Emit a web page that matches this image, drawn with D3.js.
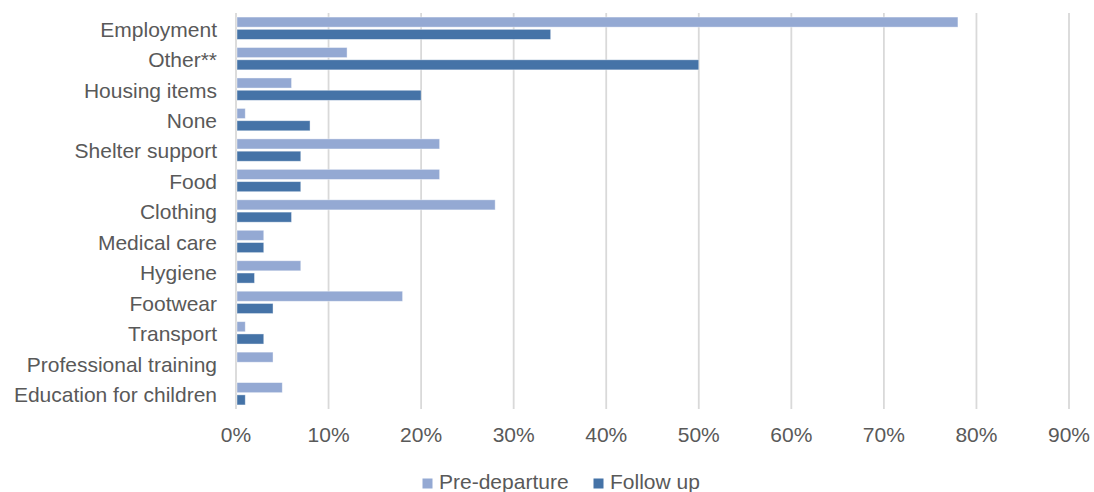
<!DOCTYPE html>
<html>
<head>
<meta charset="utf-8">
<script src="https://cdn.jsdelivr.net/npm/d3@7"></script>
<style>
  html, body { margin: 0; padding: 0; background: #fff; }
  svg { display: block; }
  text { font-family: "Liberation Sans", Arial, sans-serif; fill: #595959; }
</style>
</head>
<body>
<svg id="chart" width="1094" height="492"></svg>
<script>
// Support needed, share of respondents (%)
const categories = [
  "Employment", "Other**", "Housing items", "None", "Shelter support", "Food",
  "Clothing", "Medical care", "Hygiene", "Footwear", "Transport",
  "Professional training", "Education for children"
];
const seriesNames = ["Pre-departure", "Follow up"];
const preDeparture = [78, 12, 6, 1, 22, 22, 28, 3, 7, 18, 1, 4, 5];
const followUp     = [34, 50, 20, 8, 7, 7, 6, 3, 2, 4, 3, 0, 1];
const xTicks = [0, 10, 20, 30, 40, 50, 60, 70, 80, 90];
const colors = ["#94a9d3", "#4573a7"];

const svg = d3.select("#chart");
const plotLeft = 236, plotRight = 1069, plotTop = 13, plotBottom = 409;

const x = d3.scaleLinear().domain([0, 90]).range([plotLeft, plotRight]);
const y0 = d3.scaleBand().domain(categories).range([plotTop, plotBottom]);
const y1 = d3.scaleBand().domain(seriesNames).range([0, y0.bandwidth()])
  .paddingInner(0.18).paddingOuter(0.33);

// vertical gridlines
svg.append("g")
  .selectAll("line")
  .data(xTicks)
  .join("line")
  .attr("x1", d => x(d)).attr("x2", d => x(d))
  .attr("y1", plotTop).attr("y2", plotBottom)
  .attr("stroke", "#d9d9d9")
  .attr("stroke-width", 1.8);

// bars
const rows = categories.map((c, i) => ({ cat: c, vals: [preDeparture[i], followUp[i]] }));
svg.append("g")
  .selectAll("g")
  .data(rows)
  .join("g")
  .attr("transform", d => `translate(0,${y0(d.cat)})`)
  .selectAll("rect")
  .data(d => d.vals.map((v, j) => ({ series: seriesNames[j], v, j })).filter(e => e.v > 0))
  .join("rect")
  .attr("x", x(0) + 1)
  .attr("y", d => y1(d.series))
  .attr("width", d => x(d.v) - x(0) - 1)
  .attr("height", y1.bandwidth())
  .attr("fill", d => colors[d.j])
  .attr("stroke", "#ffffff")
  .attr("stroke-opacity", 0.5)
  .attr("stroke-width", 0.8);

// category labels
svg.append("g")
  .selectAll("text")
  .data(categories)
  .join("text")
  .attr("x", 217)
  .attr("y", d => y0(d) + y0.bandwidth() / 2 + 1)
  .attr("dy", "0.35em")
  .attr("text-anchor", "end")
  .attr("font-size", 21)
  .text(d => d);

// x tick labels
svg.append("g")
  .selectAll("text")
  .data(xTicks)
  .join("text")
  .attr("x", d => x(d))
  .attr("y", 441.5)
  .attr("text-anchor", "middle")
  .attr("font-size", 21)
  .text(d => d + "%");

// legend
const legendX = [422.5, 593.5];
const legend = svg.append("g")
  .selectAll("g")
  .data(seriesNames)
  .join("g")
  .attr("transform", (d, i) => `translate(${legendX[i]},0)`);
legend.append("rect")
  .attr("x", 0).attr("y", 478.5)
  .attr("width", 10).attr("height", 10)
  .attr("fill", (d, i) => colors[i]);
legend.append("text")
  .attr("x", 16.5).attr("y", 488.5)
  .attr("font-size", 21)
  .text(d => d);
</script>
</body>
</html>
